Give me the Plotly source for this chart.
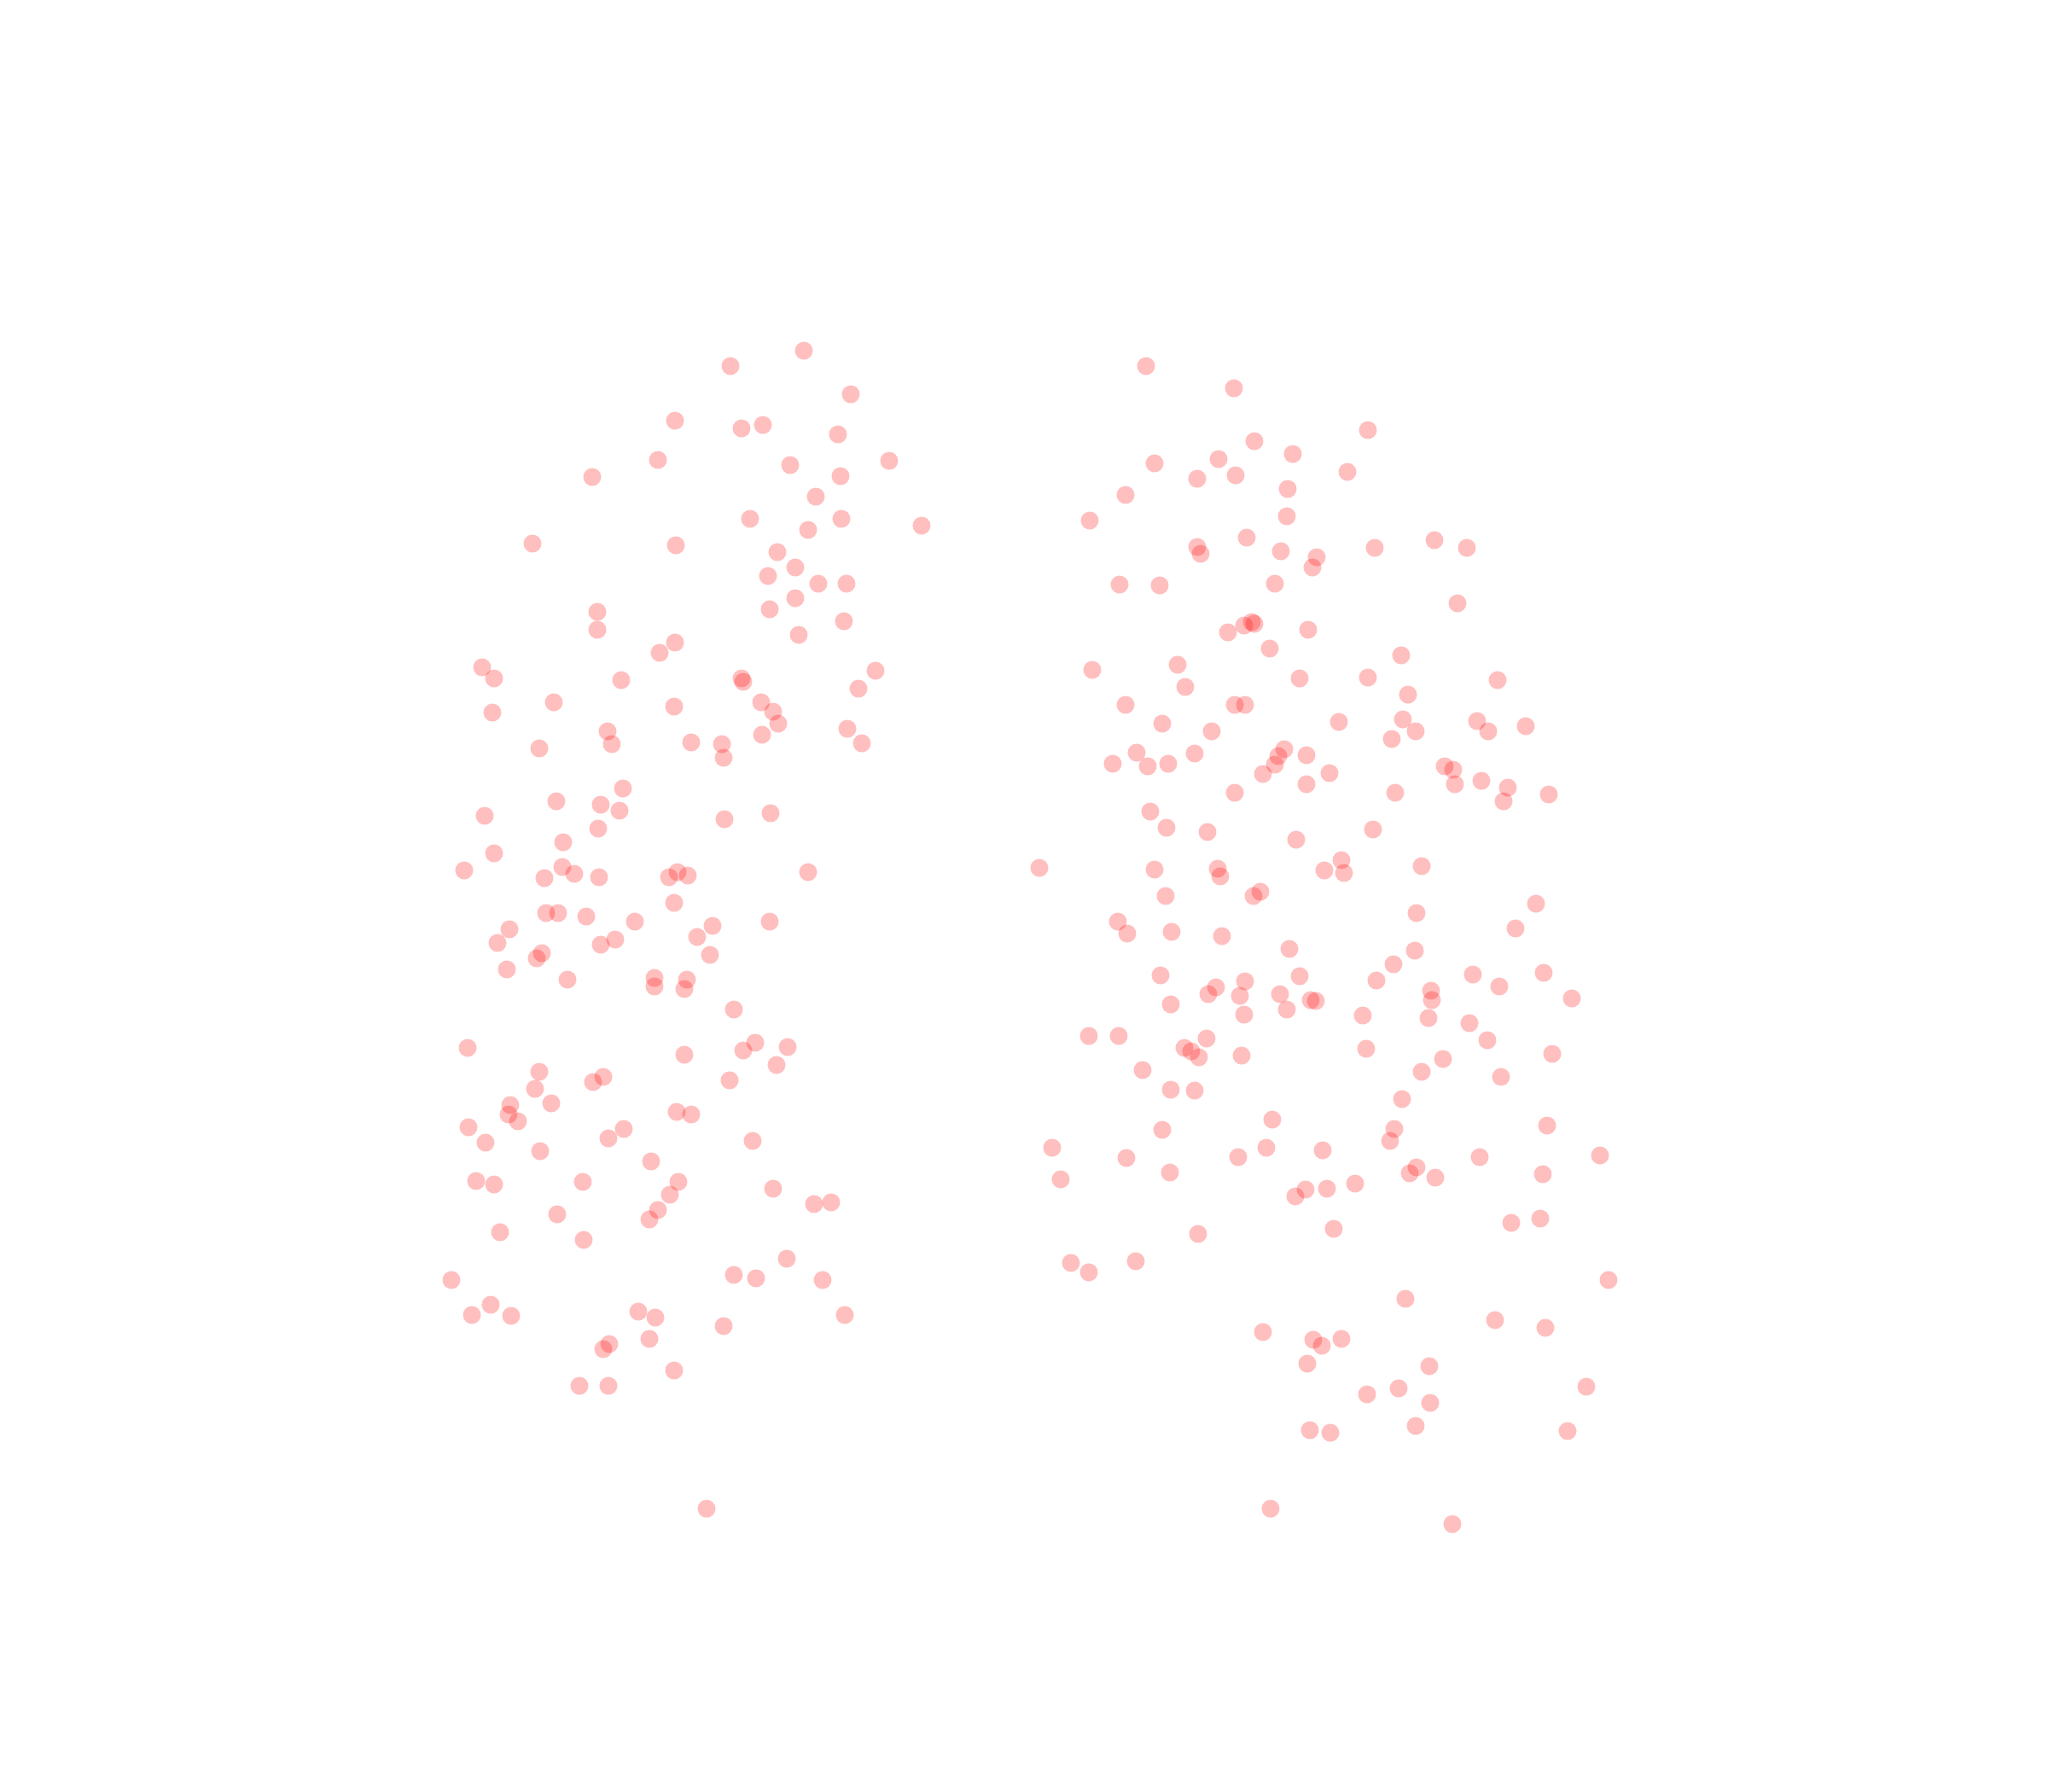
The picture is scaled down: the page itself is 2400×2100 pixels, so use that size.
import plotly.graph_objects as go

# Group A (left cluster)
group_a_x = [
    94.2, 85.6, 99.7, 79.1, 86.9, 89.4, 98.2, 77.1, 69.4, 92.6, 98.5, 104.2, 95.6, 87.9, 98.6, 94.7,
    108.0, 62.4, 79.2, 91.1, 93.2, 90.0, 95.9, 99.2, 93.2, 90.2, 98.9, 70.0, 70.0, 93.6, 79.1, 77.3,
    56.5, 57.9, 72.8, 86.9, 87.1, 102.6, 100.6, 64.9, 79.0, 89.2, 90.6, 91.2, 57.7,
    71.2, 71.7, 63.2, 81.0, 84.6, 84.8, 89.3, 99.3, 101.0, 73.0, 65.2, 70.4, 72.6, 56.8, 70.1, 84.9,
    90.3, 66.0, 57.9, 54.4, 65.9, 67.3, 63.8, 70.2, 78.4, 79.4, 80.6, 94.7, 79.0, 64.0, 65.4, 68.7,
    74.4, 59.7, 58.3, 83.5, 81.7, 90.2, 72.1, 70.4, 63.5, 62.9, 83.2, 59.4, 66.5, 76.7, 76.7, 80.5,
    80.2, 86.0, 54.8, 80.2, 88.5, 87.1, 92.3, 91.0, 85.5, 63.2, 62.7, 70.7, 69.5, 59.8, 64.6,
    59.6, 60.7, 54.9, 56.9, 63.3, 79.3, 81.0, 73.1, 71.3, 88.2, 76.3, 55.8, 57.9, 68.3, 79.5, 78.5,
    77.1, 76.1, 90.6, 95.4, 97.4, 65.3, 58.6, 68.4, 92.2, 86.0, 88.6, 96.4, 52.9, 57.5, 55.3, 59.9,
    74.8, 76.8, 84.8, 99.0, 76.1, 71.4, 70.7, 79.0, 67.9, 71.3, 82.8,
]
group_a_y = [
    168.9, 167.1, 163.8, 160.7, 159.8, 160.2, 159.1, 156.1, 154.1, 155.5, 154.2, 156.0, 151.8, 149.2, 149.2, 147.9,
    148.4, 146.3, 146.1, 145.3, 143.5, 142.5, 141.6, 141.6, 139.9, 138.6, 137.2, 138.3, 136.2, 135.6, 134.7, 133.5,
    131.8, 130.5, 130.3, 130.5, 130.1, 131.4, 129.3, 127.7, 127.2, 127.7, 126.6, 125.2, 126.5,
    124.3, 122.8, 122.3, 123.0, 122.8, 121.2, 123.9, 124.6, 122.9, 117.6, 116.1, 115.7, 115.0, 114.4, 112.9, 114.0,
    114.7, 111.3, 110.0, 108.0, 108.4, 107.6, 107.1, 107.2, 107.2, 107.8, 107.4, 107.8, 104.2, 103.0, 103.0, 102.6,
    102.0, 101.1, 99.5, 101.5, 100.2, 102.0, 99.9, 99.3, 98.3, 97.7, 98.1, 96.4, 95.2, 95.4, 94.4, 95.2,
    94.1, 91.7, 87.2, 86.4, 87.8, 86.9, 87.3, 85.2, 83.4, 84.4, 82.4, 83.8, 83.2, 80.5, 80.7,
    79.4, 78.6, 77.9, 76.1, 75.1, 79.7, 79.4, 77.7, 76.6, 76.3, 73.9, 71.6, 71.2, 71.5, 71.5, 70.0,
    68.2, 67.1, 70.7, 68.9, 69.1, 67.7, 65.6, 64.7, 62.5, 60.6, 60.2, 60.0, 60.0, 57.1, 55.9, 55.8,
    56.3, 55.6, 54.6, 55.9, 53.1, 52.5, 51.9, 49.4, 47.6, 47.6, 33.2,
]

# Group B (right cluster)
group_b_x = [
    134.3, 144.6, 160.3, 147.0, 142.8, 151.5, 135.3, 140.3, 144.8, 157.9, 150.9, 131.9, 127.7, 150.8, 146.1, 140.3,
    140.7, 150.1, 154.3, 153.8, 161.1, 168.1, 171.9, 131.2, 135.9, 149.4, 170.8, 145.8, 146.7, 147.0, 143.9, 153.3,
    148.8, 164.2, 128.0, 138.0, 138.9, 152.3, 160.3, 175.5, 165.0, 131.9, 144.7, 145.9,
    136.2, 142.0, 156.9, 164.4, 165.9, 163.1, 173.1, 174.4, 178.8, 133.2, 130.4, 134.5, 136.9, 140.0, 150.5, 149.8,
    149.4, 153.1, 148.0, 155.8, 153.1, 144.7, 163.5, 169.3, 170.3, 170.5, 173.6, 176.7, 176.2, 181.5, 134.8, 136.7,
    141.5, 151.9, 160.9, 121.8, 135.3, 142.7, 143.0, 155.2, 157.2, 157.5, 166.6, 147.7, 146.9, 136.6, 166.0, 180.0,
    131.0, 132.1, 137.3, 143.2, 177.6, 151.1, 165.8, 163.3, 136.0, 142.5, 141.6, 145.9, 145.3, 152.3, 150.0, 153.6,
    154.2, 150.8, 137.2, 145.8, 161.3, 167.7, 167.8, 167.4, 159.7, 172.6, 175.7, 180.9, 184.2, 172.2, 174.3, 181.9,
    169.1, 166.6, 175.9, 160.1, 127.6, 131.1, 141.4, 138.8, 139.6, 140.5, 145.5, 133.9, 137.2, 140.0, 164.3,
    149.1, 136.2, 123.3, 132.0, 137.1, 124.3, 145.1, 148.4, 155.0, 163.4, 162.9, 181.3, 173.4, 187.5, 166.0, 165.2,
    168.2, 180.8, 153.0, 151.8, 155.5, 158.8, 156.3, 140.4, 177.1, 180.5, 125.5, 127.6, 133.1, 188.5, 164.7, 175.2,
    181.1, 148.0, 153.9, 154.9, 157.2, 153.2, 167.5, 163.9, 160.2, 167.6, 185.9, 153.5, 155.9, 165.9, 183.7,
    148.9, 170.2,
]
group_b_y = [
    167.1, 164.5, 159.6, 158.3, 156.2, 156.8, 155.7, 153.9, 154.3, 154.7, 152.7, 152.0, 149.0, 149.5, 147.0, 145.9,
    145.1, 145.4, 144.7, 143.5, 145.8, 146.7, 145.8, 141.5, 141.4, 141.6, 139.3, 136.7, 137.1, 136.9, 135.9, 136.2,
    134.0, 133.2, 131.5, 132.1, 129.5, 130.5, 130.6, 130.3, 128.6, 127.4, 127.4, 127.4,
    125.2, 124.3, 125.4, 125.7, 124.3, 123.4, 125.5, 124.3, 124.9, 121.8, 120.5, 120.2, 120.5, 121.7, 122.2, 121.4,
    120.4, 121.5, 119.3, 119.4, 118.1, 117.1, 117.1, 120.2, 119.8, 118.1, 118.5, 117.7, 116.1, 116.9, 114.9, 113.0,
    112.5, 111.6, 112.8, 108.3, 108.1, 108.2, 107.3, 108.0, 109.2, 107.7, 108.5, 105.5, 105.0, 105.0, 103.0, 104.1,
    102.0, 100.6, 100.8, 100.3, 101.2, 98.8, 98.6, 97.0, 95.7, 94.3, 93.5, 95.0, 93.3, 95.6, 93.5, 92.8,
    92.7, 91.7, 92.3, 91.1, 95.1, 93.9, 92.8, 90.7, 91.0, 95.8, 94.4, 96.0, 93.0, 90.1, 88.1, 86.5,
    85.9, 84.4, 83.8, 87.1, 88.6, 88.6, 88.3, 87.2, 86.8, 86.1, 86.3, 84.6, 82.3, 82.2, 81.2,
    78.8, 77.6, 75.5, 74.3, 72.6, 71.8, 74.4, 75.5, 75.2, 77.7, 76.3, 78.1, 74.4, 74.6, 73.2, 72.5,
    72.0, 72.4, 70.6, 69.8, 70.7, 71.3, 66.0, 65.4, 66.7, 67.2, 62.0, 60.9, 62.2, 60.0, 57.8, 55.3,
    54.4, 53.9, 53.0, 52.3, 53.1, 50.2, 49.9, 47.3, 46.6, 45.6, 47.5, 42.4, 42.1, 42.9, 42.3,
    33.2, 31.4,
]

fig = go.Figure()
for gx, gy in ((group_a_x, group_a_y), (group_b_x, group_b_y)):
    fig.add_trace(go.Scatter(
        x=gx, y=gy, mode="markers",
        marker=dict(color="red", size=21, opacity=0.25, line=dict(width=0)),
        showlegend=False, hoverinfo="skip",
    ))

fig.update_layout(
    width=2400, height=2100,
    margin=dict(l=72, r=88, t=92, b=88),
    paper_bgcolor="white", plot_bgcolor="white",
    xaxis=dict(visible=False, range=[8, 232]),
    yaxis=dict(visible=False, range=[8, 200]),
)

fig.write_html("out.html")
